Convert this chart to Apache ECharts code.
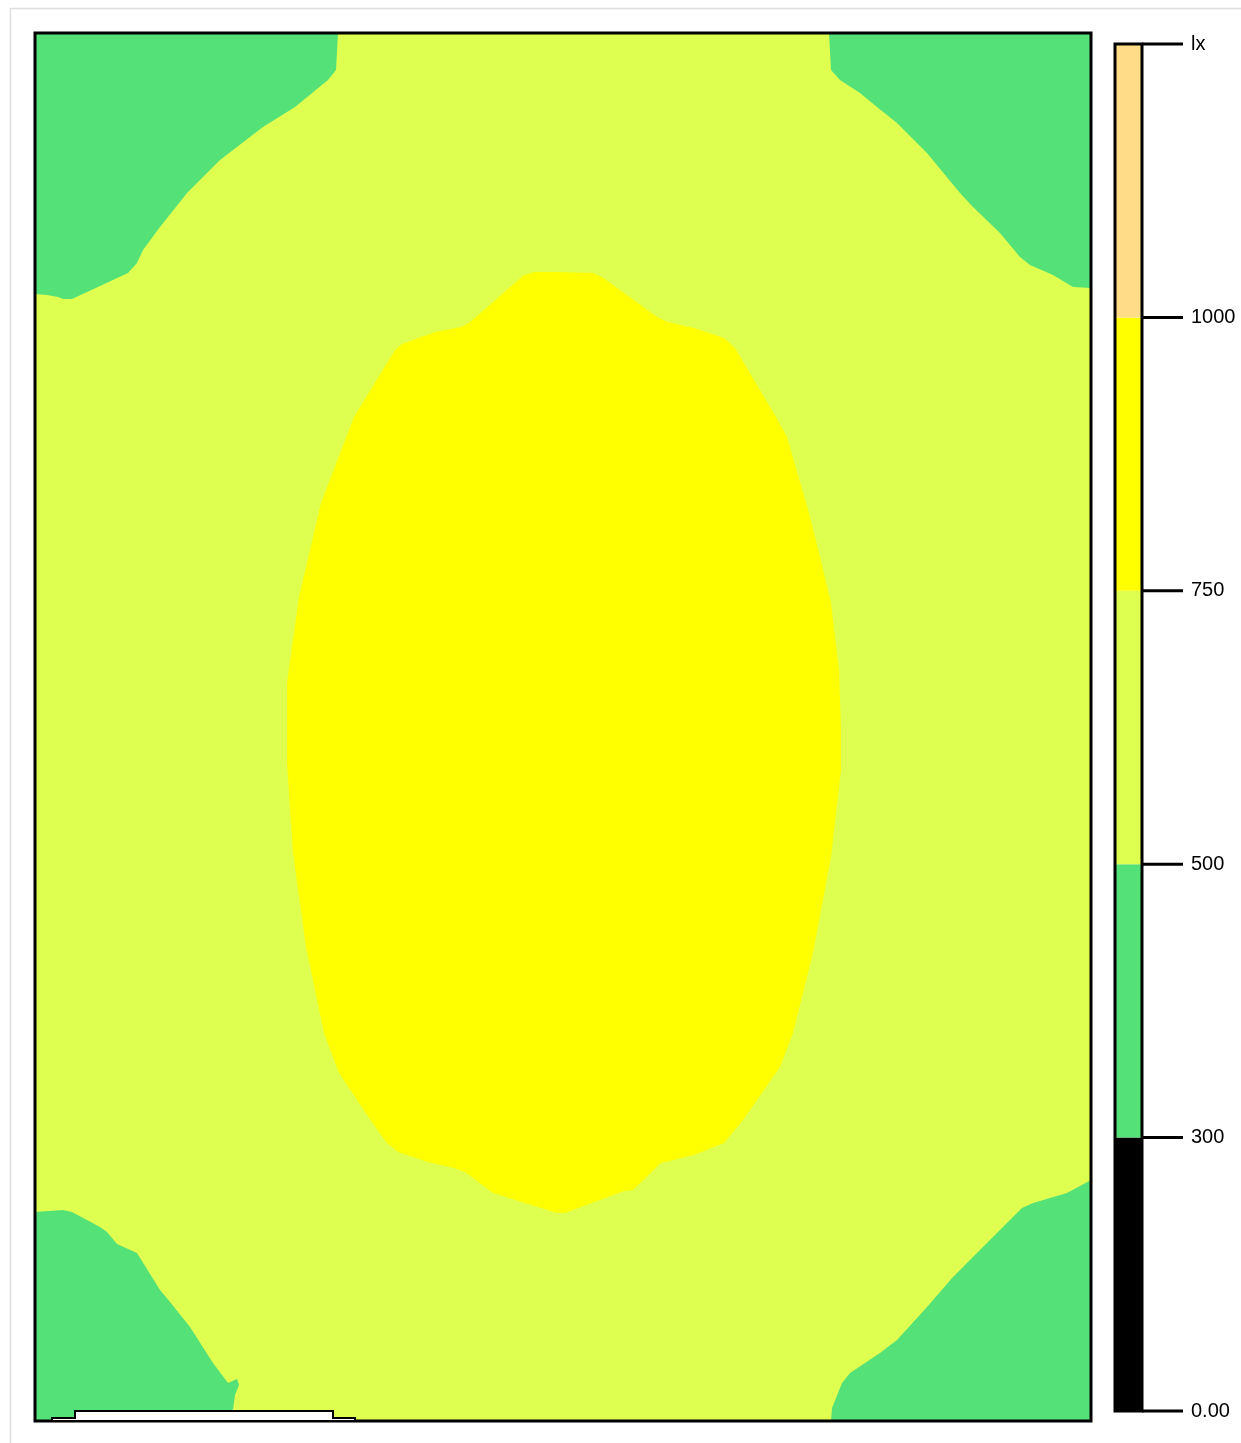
<!DOCTYPE html>
<html>
<head>
<meta charset="utf-8">
<title>Isolux</title>
<script src="https://cdn.jsdelivr.net/npm/echarts@6/dist/echarts.min.js"></script>
<style>
  html, body { margin: 0; padding: 0; background: #fff; }
  #chart { width: 1241px; height: 1443px; }
</style>
</head>
<body>
<div id="chart"></div>
<script>
// room size in m
const roomWidth = 10.56
const roomDepth = 13.88

// legend: level boundaries and labels
const levelTicks = ['0.00', '300', '500', '750', '1000', 'lx']

// isolux regions, [x m, y m]
const zoneGreenTopLeft = [
  [0, 13.88], [3.03, 13.88], [3.01, 13.51], [2.93, 13.41], [2.6, 13.14], [2.28, 12.94],
  [1.85, 12.61], [1.52, 12.28], [1.25, 11.94], [1.08, 11.71], [1.02, 11.58], [0.93, 11.48],
  [0.37, 11.22], [0.28, 11.22], [0.23, 11.24], [0.12, 11.26], [0, 11.27]
]
const zoneGreenTopRight = [
  [10.56, 13.88], [7.94, 13.88], [7.96, 13.51], [8.05, 13.41], [8.25, 13.28], [8.42, 13.14],
  [8.62, 12.98], [8.92, 12.68], [9.25, 12.28], [9.38, 12.14], [9.65, 11.88], [9.85, 11.64],
  [9.95, 11.56], [10.18, 11.46], [10.38, 11.34], [10.56, 11.33]
]
const zoneGreenBottomRight = [
  [10.56, 0], [10.56, 2.41], [10.32, 2.28], [9.98, 2.18], [9.87, 2.13], [9.62, 1.88],
  [9.32, 1.58], [9.18, 1.44], [8.92, 1.14], [8.62, 0.81], [8.45, 0.68], [8.15, 0.48],
  [8.07, 0.38], [7.97, 0.13], [7.96, 0]
]
const zoneGreenBottomLeft = [
  [0, 0], [0, 2.09], [0.28, 2.11], [0.37, 2.09], [0.65, 1.94], [0.72, 1.89], [0.82, 1.77],
  [1.02, 1.68], [1.25, 1.31], [1.35, 1.19], [1.55, 0.94], [1.78, 0.58], [1.93, 0.38],
  [2.02, 0.42], [2.04, 0.36], [2.0, 0.26], [1.98, 0.11], [1.98, 0]
]
const zoneYellow = [
  [5.0, 11.49], [5.22, 11.49], [5.58, 11.48], [5.67, 11.44], [6.22, 11.04], [6.33, 10.99],
  [6.59, 10.93], [6.89, 10.83], [7.0, 10.73], [7.41, 10.04], [7.52, 9.84], [7.74, 9.08],
  [7.85, 8.64], [7.96, 8.18], [8.04, 7.51], [8.06, 6.91], [8.06, 6.51], [7.96, 5.64],
  [7.78, 4.68], [7.58, 3.88], [7.45, 3.54], [7.08, 3.01], [6.89, 2.78], [6.59, 2.66],
  [6.26, 2.58], [5.98, 2.31], [5.89, 2.3], [5.3, 2.08], [5.22, 2.08], [4.58, 2.28],
  [4.3, 2.49], [4.19, 2.53], [3.93, 2.59], [3.63, 2.69], [3.52, 2.78], [3.34, 3.03],
  [3.04, 3.48], [2.89, 3.88], [2.71, 4.74], [2.58, 5.68], [2.52, 6.58], [2.52, 7.38],
  [2.64, 8.24], [2.86, 9.18], [3.19, 10.04], [3.6, 10.71], [3.67, 10.77], [4.0, 10.89],
  [4.26, 10.94], [4.34, 10.98], [4.89, 11.46]
]
// window / door symbol on the bottom wall
const windowOutline = [
  [0.17, 0], [0.17, 0.03], [0.4, 0.03], [0.4, 0.1], [2.98, 0.1], [2.98, 0.03],
  [3.2, 0.03], [3.2, 0]
]

const bandColors = ['#000000', '#54e178', '#dfff50', '#ffff00', '#ffdd88']

const chart = echarts.init(document.getElementById('chart'))

// polygon drawn in the room grid
const polySeries = (pts, fill, stroke, z) => ({
  type: 'custom',
  xAxisIndex: 0,
  yAxisIndex: 0,
  silent: true,
  z: z || 2,
  data: [[0, 0]],
  renderItem: (params, api) => ({
    type: 'polygon',
    shape: { points: pts.map((p) => api.coord(p)) },
    style: { fill: fill, stroke: stroke || null, lineWidth: stroke ? 2 : 0 }
  })
})

const roomRect = [[0, 0], [roomWidth, 0], [roomWidth, roomDepth], [0, roomDepth]]

const options = {
  animation: false,
  backgroundColor: '#fff',
  graphic: [
    {
      type: 'rect',
      shape: { x: 10.5, y: 8.5, width: 1400, height: 1600 },
      style: { fill: null, stroke: '#dedede', lineWidth: 1.5 },
      silent: true
    }
  ],
  grid: [
    { left: 35, top: 33, width: 1056, height: 1388, show: false },
    { left: 1115, top: 44, width: 27, height: 1367, show: false }
  ],
  xAxis: [
    { type: 'value', gridIndex: 0, min: 0, max: roomWidth, show: false },
    { type: 'value', gridIndex: 1, min: 0, max: 1, show: false }
  ],
  yAxis: [
    { type: 'value', gridIndex: 0, min: 0, max: roomDepth, show: false },
    {
      type: 'value',
      gridIndex: 1,
      position: 'right',
      min: 0,
      max: levelTicks.length - 1,
      interval: 1,
      splitLine: { show: false },
      axisLine: { show: false },
      axisTick: { show: false },
      axisLabel: {
        show: true,
        margin: 49,
        color: '#000',
        fontSize: 20,
        fontFamily: 'Liberation Sans, Arial, sans-serif',
        formatter: (v) => levelTicks[Math.round(v)]
      }
    }
  ],
  series: [
    polySeries(roomRect, bandColors[2]),
    polySeries(zoneGreenTopLeft, bandColors[1]),
    polySeries(zoneGreenTopRight, bandColors[1]),
    polySeries(zoneGreenBottomRight, bandColors[1]),
    polySeries(zoneGreenBottomLeft, bandColors[1]),
    polySeries(zoneYellow, bandColors[3]),
    // room outline
    {
      type: 'custom',
      xAxisIndex: 0,
      yAxisIndex: 0,
      silent: true,
      z: 5,
      data: [[0, 0]],
      renderItem: (params, api) => ({
        type: 'polygon',
        shape: { points: roomRect.map((p) => api.coord(p)) },
        style: { fill: null, stroke: '#000', lineWidth: 3 }
      })
    },
    polySeries(windowOutline, '#fff', '#000', 6),
    // legend bands
    {
      type: 'custom',
      xAxisIndex: 1,
      yAxisIndex: 1,
      silent: true,
      z: 3,
      data: bandColors.map((c, i) => [i]),
      renderItem: (params, api) => {
        const i = api.value(0)
        const p1 = api.coord([0, i + 1])
        const p2 = api.coord([1, i])
        return {
          type: 'rect',
          shape: { x: p1[0], y: p1[1], width: p2[0] - p1[0], height: p2[1] - p1[1] },
          style: { fill: bandColors[i] }
        }
      }
    },
    // legend outline and tick marks
    {
      type: 'custom',
      xAxisIndex: 1,
      yAxisIndex: 1,
      silent: true,
      z: 4,
      data: [[0]],
      renderItem: (params, api) => {
        const p1 = api.coord([0, levelTicks.length - 1])
        const p2 = api.coord([1, 0])
        const children = [
          {
            type: 'rect',
            shape: { x: p1[0], y: p1[1], width: p2[0] - p1[0], height: p2[1] - p1[1] },
            style: { fill: null, stroke: '#000', lineWidth: 3 }
          }
        ]
        levelTicks.forEach((t, i) => {
          const p = api.coord([1, i])
          children.push({
            type: 'line',
            shape: { x1: p[0], y1: p[1], x2: p[0] + 41, y2: p[1] },
            style: { stroke: '#000', lineWidth: 3 }
          })
        })
        return { type: 'group', children: children }
      }
    }
  ]
}

chart.setOption(options)
</script>
</body>
</html>
